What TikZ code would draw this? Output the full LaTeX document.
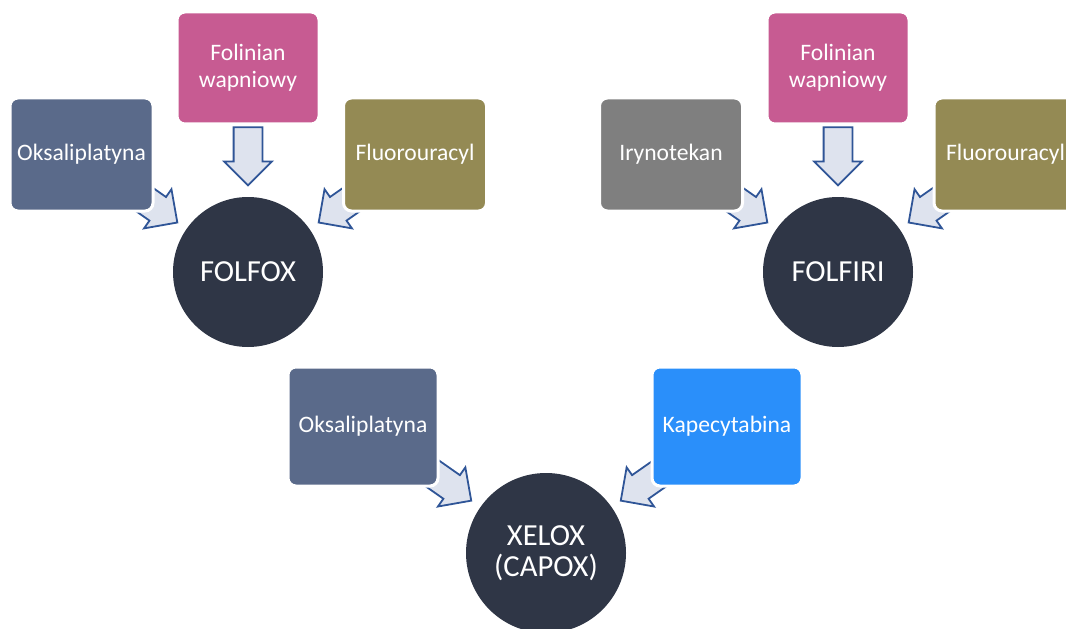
\documentclass[tikz,border=0pt]{standalone}
\usepackage{fontspec}
\setmainfont{Carlito}
\usetikzlibrary{calc,shapes.arrows}
\definecolor{oksSlate}{HTML}{5A6A8A}
\definecolor{folPink}{HTML}{C75B92}
\definecolor{fluOlive}{HTML}{948A54}
\definecolor{iryGrey}{HTML}{7F7F7F}
\definecolor{kapBlue}{HTML}{2A8FFA}
\definecolor{regDark}{HTML}{2F3646}
\definecolor{arrLine}{HTML}{2F5597}
\definecolor{arrFill}{HTML}{DEE3EE}

\begin{document}
\begin{tikzpicture}[x=1pt,y=1pt,
  drug/.style={rectangle, rounded corners=4pt, draw=white, line width=1.5pt,
    text=white, font=\fontsize{11.8}{13.6}\selectfont, align=center,
    minimum width=71.5pt, minimum height=56.5pt, inner sep=2pt},
  regimen/.style={circle, fill=regDark, text=white, align=center,
    font=\fontsize{15.3}{15.8}\selectfont, inner sep=0pt},
  blockarrow/.style={single arrow, draw=arrLine, fill=arrFill, line width=0.9pt,
    minimum height=29pt, single arrow head extend=4.75pt,
    inner xsep=0pt, inner ysep=6.75pt, anchor=tip}]
\useasboundingbox (0,0) rectangle (533,314);
\clip (0,0) rectangle (533,314);
% regimens
\node[regimen, minimum size=75pt] (folfox) at (124,178) {FOLFOX};
\node[regimen, minimum size=75pt] (folfiri) at (419,178) {FOLFIRI};
\node[regimen, minimum size=80pt] (xelox) at (273,37.5) {XELOX\\(CAPOX)};
% block arrows, under the boxes
\node[blockarrow, rotate=-90] (aFolA) at ($(folfox.north)+(0,5)$) {};
\node[blockarrow, rotate=-35] (aOksA) at ($(folfox)+(145:42.5)$) {};
\node[blockarrow, rotate=-145] (aFluA) at ($(folfox)+(35:42.5)$) {};
\node[blockarrow, rotate=-90] (aFolB) at ($(folfiri.north)+(0,5)$) {};
\node[blockarrow, rotate=-35] (aIry) at ($(folfiri)+(145:42.5)$) {};
\node[blockarrow, rotate=-145] (aFluB) at ($(folfiri)+(35:42.5)$) {};
\node[blockarrow, rotate=-35] (aOksC) at ($(xelox)+(145:45)$) {};
\node[blockarrow, rotate=-145] (aKap) at ($(xelox)+(35:45)$) {};
% drugs
\node[drug, fill=oksSlate] (oksA) at (40.75,236.75) {Oksaliplatyna};
\node[drug, fill=folPink, minimum width=71pt, minimum height=56pt] (folA) at (124,280) {Folinian\\wapniowy};
\node[drug, fill=fluOlive] (fluA) at (207.5,236.75) {Fluorouracyl};
\node[drug, fill=iryGrey] (iry) at (335.5,236.75) {Irynotekan};
\node[drug, fill=folPink, minimum width=71pt, minimum height=56pt] (folB) at (419,280) {Folinian\\wapniowy};
\node[drug, fill=fluOlive] (fluB) at (502.75,236.75) {Fluorouracyl};
\node[drug, fill=oksSlate, minimum width=75pt, minimum height=59.5pt] (oksC) at (181.5,100.75) {Oksaliplatyna};
\node[drug, fill=kapBlue, minimum width=75pt, minimum height=59.5pt] (kap) at (363.5,100.75) {Kapecytabina};
\end{tikzpicture}
\end{document}
